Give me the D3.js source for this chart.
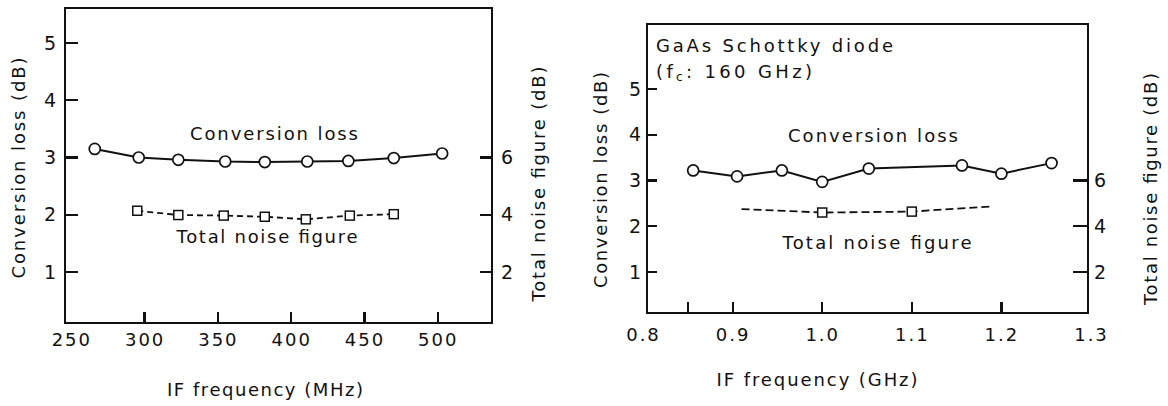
<!DOCTYPE html>
<html>
<head>
<meta charset="utf-8">
<script src="https://cdn.jsdelivr.net/npm/d3@7"></script>
<style>
  body { margin: 0; background: #fff; }
  svg { display: block; }
  text { font-family: "DejaVu Sans", sans-serif; fill: #111; }
</style>
</head>
<body>
<div id="chart"></div>
<script>
// ---- data ----
// left panel: IF in MHz
const mhzLossFreq = [266, 296, 323, 355, 382, 411, 439, 470, 503];
const mhzLoss = [3.15, 3.0, 2.96, 2.93, 2.92, 2.93, 2.94, 2.99, 3.07];
const mhzNoiseFreq = [295, 323, 354, 382, 410, 440, 470];
const mhzNoise = [4.14, 3.99, 3.97, 3.93, 3.84, 3.97, 4.02]; // right axis
const mhzTickLabels = [250, 300, 350, 400, 450, 500];
const mhzTickMarks = [300, 350, 400, 450, 500];

// right panel: IF in GHz
const ghzLossFreq = [0.856, 0.905, 0.955, 1.0, 1.052, 1.156, 1.2, 1.256];
const ghzLoss = [3.22, 3.09, 3.22, 2.97, 3.26, 3.33, 3.15, 3.38];
const ghzNoiseFreq = [0.91, 1.0, 1.1, 1.19];
const ghzNoise = [4.75, 4.6, 4.64, 4.87]; // right axis
const ghzNoiseMarked = [1.0, 1.1];
const ghzTickLabels = [0.8, 0.9, 1.0, 1.1, 1.2, 1.3];
const ghzTickMarks = [0.85, 0.9, 1.0, 1.1, 1.2];

const lossTicks = [1, 2, 3, 4, 5];
const noiseTicks = [2, 4, 6];

const svg = d3.select("#chart").append("svg")
    .attr("width", 1168)
    .attr("height", 406);
svg.append("rect").attr("width", 1168).attr("height", 406).attr("fill", "#fff");

function drawPanel(p) {
    const g = svg.append("g");
    const x = d3.scaleLinear().domain(p.xDomain).range(p.xRange);
    const yL = d3.scaleLinear().domain([0, 5]).range(p.yRange);
    const yR = d3.scaleLinear().domain([0, 10]).range(p.yRange);

    // conversion loss: solid line + open circles
    const loss = p.lossFreq.map((f, i) => [f, p.loss[i]]);
    g.append("path")
        .datum(loss)
        .attr("fill", "none").attr("stroke", "#111").attr("stroke-width", 2)
        .attr("d", d3.line().x(d => x(d[0])).y(d => yL(d[1])));
    g.selectAll("circle.pt").data(loss).enter().append("circle")
        .attr("class", "pt")
        .attr("cx", d => x(d[0])).attr("cy", d => yL(d[1])).attr("r", 5.5)
        .attr("fill", "#fff").attr("stroke", "#111").attr("stroke-width", 1.7);

    // noise figure: dashed line + open squares
    const nf = p.noiseFreq.map((f, i) => [f, p.noise[i]]);
    g.append("path")
        .datum(nf)
        .attr("fill", "none").attr("stroke", "#111").attr("stroke-width", 1.8)
        .attr("stroke-dasharray", p.dash)
        .attr("d", d3.line().x(d => x(d[0])).y(d => yR(d[1])));
    g.selectAll("rect.sq").data(nf.filter(d => p.marked.includes(d[0]))).enter().append("rect")
        .attr("class", "sq")
        .attr("x", d => x(d[0]) - 4.5).attr("y", d => yR(d[1]) - 4.5)
        .attr("width", 9).attr("height", 9)
        .attr("fill", "#fff").attr("stroke", "#111").attr("stroke-width", 1.5);

    // text labels
    p.texts.forEach(t => {
        const el = g.append("text")
            .attr("x", t.x).attr("y", t.y)
            .attr("text-anchor", t.anchor || "middle")
            .style("font-size", (t.size || 18) + "px")
            .attr("textLength", t.len).attr("lengthAdjust", "spacing");
        if (t.rot) {
            el.attr("transform", `rotate(-90,${t.x},${t.y})`).attr("dominant-baseline", "central");
        }
        if (t.parts) {
            t.parts.forEach(pt => {
                const ts = el.append("tspan").text(pt.s);
                if (pt.sub) ts.style("font-size", "12px").attr("dy", 3);
                if (pt.up) ts.attr("dy", -3);
            });
        } else {
            el.text(t.s);
        }
    });

    // frame
    g.append("rect")
        .attr("x", p.left).attr("y", p.top)
        .attr("width", p.right - p.left).attr("height", p.bottom - p.top)
        .attr("fill", "none").attr("stroke", "#111").attr("stroke-width", 2);

    // axis labels (tick lines drawn separately below)
    const bx = g.append("g").attr("transform", `translate(0,${p.bottom})`)
        .call(d3.axisBottom(x).tickValues(p.xLabels).tickSize(0).tickPadding(p.xPad).tickFormat(p.xFmt));
    bx.selectAll("text").style("font-size", "18px").attr("letter-spacing", "2px");
    const la = g.append("g").attr("transform", `translate(${p.left},0)`)
        .call(d3.axisLeft(yL).tickValues(lossTicks).tickSize(0).tickPadding(p.lPad).tickFormat(d3.format("d")));
    la.selectAll("text").style("font-size", "19px");
    const ra = g.append("g").attr("transform", `translate(${p.right},0)`)
        .call(d3.axisRight(yR).tickValues(noiseTicks).tickSize(0).tickPadding(p.rPad).tickFormat(d3.format("d")));
    ra.selectAll("text").style("font-size", "19px");
    [bx, la, ra].forEach(a => a.select(".domain").remove());

    // inward tick marks
    const tk = g.append("g").attr("stroke", "#111").attr("stroke-width", 2.2)
        .attr("shape-rendering", "crispEdges");
    tk.selectAll("line.bt").data(p.xMarks).enter().append("line").attr("class", "bt")
        .attr("x1", d => x(d)).attr("x2", d => x(d))
        .attr("y1", p.bottom).attr("y2", p.bottom - 11);
    tk.selectAll("line.lt").data(lossTicks).enter().append("line").attr("class", "lt")
        .attr("x1", p.left).attr("x2", p.left + p.lTick)
        .attr("y1", d => yL(d)).attr("y2", d => yL(d));
    tk.selectAll("line.rt").data(noiseTicks).enter().append("line").attr("class", "rt")
        .attr("x1", p.right).attr("x2", p.right - p.rTick)
        .attr("y1", d => yR(d)).attr("y2", d => yR(d));
}

drawPanel({
    left: 65, right: 492, top: 8, bottom: 323,
    xDomain: [245.7, 537], xRange: [65, 492],
    yRange: [329.25, 43],
    xLabels: mhzTickLabels, xMarks: mhzTickMarks, xFmt: d3.format("d"), xPad: 10,
    lTick: 13, lPad: 9, rTick: 12, rPad: 9,
    lossFreq: mhzLossFreq, loss: mhzLoss,
    noiseFreq: mhzNoiseFreq, noise: mhzNoise, marked: mhzNoiseFreq,
    dash: "6,4",
    texts: [
        { s: "Conversion loss", x: 274, y: 140, len: 168 },
        { s: "Total noise figure", x: 267, y: 243, len: 181 },
        { s: "Conversion loss (dB)", x: 18, y: 168, len: 221, rot: true },
        { s: "Total noise figure (dB)", x: 538, y: 184, len: 235, rot: true },
        { s: "IF frequency (MHz)", x: 265, y: 396, len: 196 }
    ]
});

drawPanel({
    left: 647, right: 1088, top: 24, bottom: 313,
    xDomain: [0.8, 1.3], xRange: [643, 1091],
    yRange: [317.75, 89],
    xLabels: ghzTickLabels, xMarks: ghzTickMarks, xFmt: d3.format(".1f"), xPad: 15,
    lTick: 10, lPad: 6, rTick: 15, rPad: 6,
    lossFreq: ghzLossFreq, loss: ghzLoss,
    noiseFreq: ghzNoiseFreq, noise: ghzNoise, marked: ghzNoiseMarked,
    dash: "8,4",
    texts: [
        { s: "GaAs Schottky diode", x: 656, y: 52, len: 237, anchor: "start" },
        { parts: [{ s: "(f" }, { s: "c", sub: true }, { s: ": 160 GHz)", up: true }], x: 656, y: 78, len: 156, anchor: "start" },
        { s: "Conversion loss", x: 873, y: 142, len: 170 },
        { s: "Total noise figure", x: 877, y: 249, len: 189 },
        { s: "Conversion loss (dB)", x: 600, y: 180, len: 216, rot: true },
        { s: "Total noise figure (dB)", x: 1150, y: 189, len: 232, rot: true },
        { s: "IF frequency (GHz)", x: 817, y: 386, len: 201 }
    ]
});
</script>
</body>
</html>
